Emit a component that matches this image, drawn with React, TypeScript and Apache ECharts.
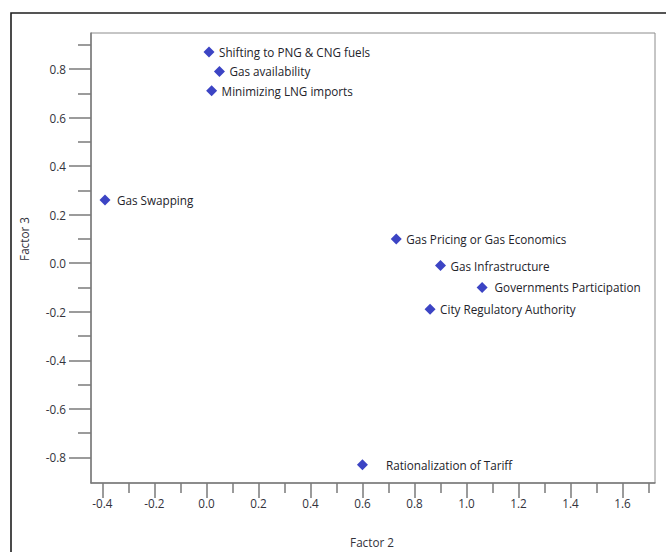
import React, { useEffect, useRef } from "react";
import * as echarts from "echarts";

// Loadings of each item on Factor 2 (x) and Factor 3 (y)
const itemNames = [
  "Shifting to PNG & CNG fuels",
  "Gas availability",
  "Minimizing LNG imports",
  "Gas Swapping",
  "Gas Pricing or Gas Economics",
  "Gas Infrastructure",
  "Governments Participation",
  "City Regulatory Authority",
  "Rationalization of Tariff",
];
const factor2 = [0.01, 0.05, 0.02, -0.39, 0.73, 0.9, 1.06, 0.86, 0.6];
const factor3 = [0.87, 0.79, 0.71, 0.26, 0.1, -0.01, -0.1, -0.19, -0.83];

// Axis ticks
const xMajorTicks = [-0.4, -0.2, 0.0, 0.2, 0.4, 0.6, 0.8, 1.0, 1.2, 1.4, 1.6];
const xMinorTicks = [-0.3, -0.1, 0.1, 0.3, 0.5, 0.7, 0.9, 1.1, 1.3, 1.5, 1.7];
const yMajorTicks = [-0.8, -0.6, -0.4, -0.2, 0.0, 0.2, 0.4, 0.6, 0.8];
const yMinorTicks = [-0.7, -0.5, -0.3, -0.1, 0.1, 0.3, 0.5, 0.7, 0.9];

const X_MIN = -0.4438;
const X_MAX = 1.7248;
const Y_MIN = -0.9057;
const Y_MAX = 0.9484;

// Gap between marker and its label (px)
const labelGap: Record<string, number> = {
  "Gas Swapping": 6.5,
  "Governments Participation": 7,
  "Rationalization of Tariff": 18,
};

const FONT = '"Open Sans", "Noto Sans", sans-serif';
const AXIS_COLOR = "#7a7a7a";
const TEXT_COLOR = "#33333c";

export default function App() {
  const ref = useRef<HTMLDivElement>(null);

  useEffect(() => {
    if (!ref.current) return;
    const chart = echarts.init(ref.current, undefined, { renderer: "svg" });

    const fmt = (v: number) => v.toFixed(1);

    const axisLine = {
      show: true,
      onZero: false,
      lineStyle: { color: AXIS_COLOR, width: 1.5 },
    };
    const tickLine = { color: AXIS_COLOR, width: 1.5 };
    const labelStyle = {
      color: TEXT_COLOR,
      fontSize: 11.7,
      fontFamily: FONT,
      formatter: fmt,
    };

    const points = itemNames.map((name, i) => ({
      name,
      value: [factor2[i], factor3[i]],
      label: { distance: labelGap[name] ?? 4.5 },
    }));

    chart.setOption({
      animation: false,
      backgroundColor: "#ffffff",
      textStyle: { fontFamily: FONT },
      grid: {
        left: 91,
        top: 33,
        width: 564,
        height: 450,
        show: true,
        borderColor: "#8c8c8c",
        borderWidth: 1,
        backgroundColor: "transparent",
      },
      xAxis: [
        {
          type: "value",
          position: "bottom",
          min: X_MIN,
          max: X_MAX,
          axisLine,
          axisTick: { show: true, customValues: xMajorTicks, length: 15, lineStyle: tickLine },
          axisLabel: { ...labelStyle, customValues: xMajorTicks, margin: 14 },
          splitLine: { show: false },
        },
        {
          type: "value",
          position: "bottom",
          min: X_MIN,
          max: X_MAX,
          axisLine: { show: false, onZero: false },
          axisTick: { show: true, customValues: xMinorTicks, length: 10, lineStyle: tickLine },
          axisLabel: { show: false },
          splitLine: { show: false },
        },
      ],
      yAxis: [
        {
          type: "value",
          position: "left",
          min: Y_MIN,
          max: Y_MAX,
          axisLine,
          axisTick: { show: true, customValues: yMajorTicks, length: 22, lineStyle: tickLine },
          axisLabel: { ...labelStyle, customValues: yMajorTicks, margin: 25 },
          splitLine: { show: false },
        },
        {
          type: "value",
          position: "left",
          min: Y_MIN,
          max: Y_MAX,
          axisLine: { show: false, onZero: false },
          axisTick: { show: true, customValues: yMinorTicks, length: 13, lineStyle: tickLine },
          axisLabel: { show: false },
          splitLine: { show: false },
        },
      ],
      series: [
        {
          type: "scatter",
          xAxisIndex: 0,
          yAxisIndex: 0,
          symbol: "diamond",
          symbolSize: 11,
          itemStyle: { color: "#3c44c4", opacity: 1 },
          label: {
            show: true,
            position: "right",
            formatter: "{b}",
            color: "#23232a",
            fontSize: 11.7,
            fontFamily: FONT,
          },
          data: points,
        },
      ],
      graphic: [
        {
          type: "rect",
          silent: true,
          shape: { x: 11, y: 13, width: 720, height: 620 },
          style: { fill: "none", stroke: "#1e1e1e", lineWidth: 1.6 },
        },
        {
          type: "text",
          x: 24,
          y: 239,
          rotation: Math.PI / 2,
          style: {
            text: "Factor 3",
            fill: TEXT_COLOR,
            font: `11.7px ${FONT}`,
            align: "center",
            verticalAlign: "middle",
          },
        },
        {
          type: "text",
          x: 372,
          y: 541.5,
          style: {
            text: "Factor 2",
            fill: TEXT_COLOR,
            font: `11.7px ${FONT}`,
            align: "center",
            verticalAlign: "middle",
          },
        },
      ],
    });

    return () => chart.dispose();
  }, []);

  return (
    <div
      ref={ref}
      style={{ position: "absolute", left: 0, top: 0, width: 666, height: 552 }}
    />
  );
}
